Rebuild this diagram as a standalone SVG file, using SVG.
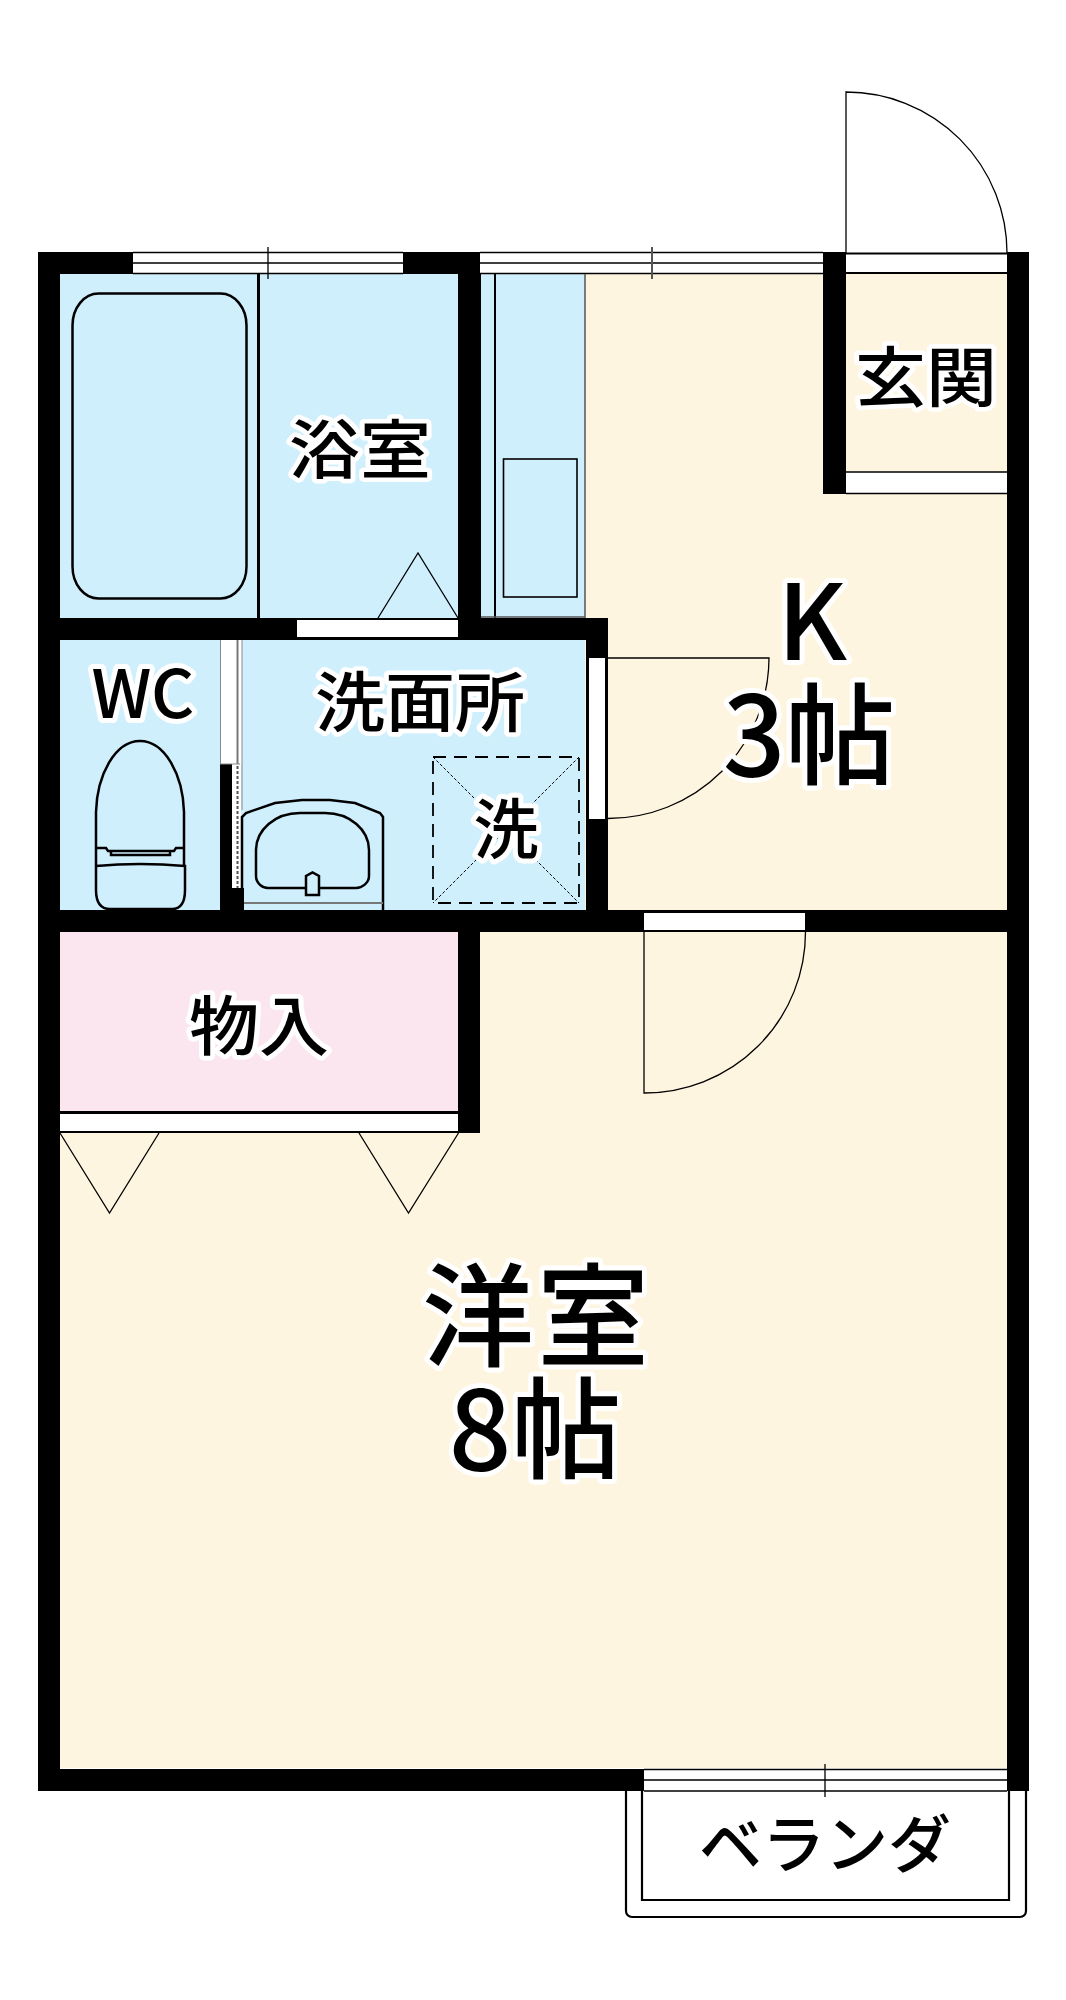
<svg xmlns="http://www.w3.org/2000/svg" width="1066" height="2000" viewBox="0 0 1066 2000">
<style>
.w{fill:#000}
.o{fill:#fff}
.l{fill:none;stroke:#000;stroke-width:1.3}
.m{fill:none;stroke:#000;stroke-width:2.2}
.t{font-family:"Noto Sans CJK JP","Noto Sans",sans-serif;font-weight:500;fill:#000;stroke:#fff;stroke-width:10;stroke-linejoin:round;paint-order:stroke;text-anchor:middle}
</style>
<rect width="1066" height="2000" fill="#fff"/>
<g id="floors">
<rect x="60" y="274" width="398" height="344" fill="#d0effd"/>
<rect x="481" y="274" width="104" height="344" fill="#d0effd"/>
<rect x="60" y="640" width="526" height="270" fill="#d0effd"/>
<rect x="585" y="274" width="422" height="636" fill="#fef5e0"/>
<rect x="60" y="932" width="947" height="836" fill="#fef5e0"/>
<rect x="60" y="932" width="398" height="179" fill="#fbe6f0"/>
</g>
<g id="balcony">
<path class="m" d="M626 1791V1911a6 6 0 0 0 6 6H1020a6 6 0 0 0 6-6V1791"/>
<path class="m" d="M642 1791V1900H1009V1791"/>
</g>
<g id="walls">
<rect class="w" x="38" y="252" width="22" height="1539"/>
<rect class="w" x="38" y="252" width="443" height="22"/>
<rect class="w" x="458" y="252" width="23" height="388"/>
<rect class="w" x="38" y="618" width="570" height="22"/>
<rect class="w" x="586" y="618" width="22" height="314"/>
<rect class="w" x="38" y="910" width="991" height="22"/>
<rect class="w" x="458" y="932" width="22" height="201"/>
<rect class="w" x="38" y="1111" width="420" height="22"/>
<rect class="w" x="38" y="1769" width="990" height="22"/>
<rect class="w" x="1007" y="252" width="22" height="1539"/>
<rect class="w" x="823" y="252" width="23" height="242"/>
<rect class="w" x="220" y="764" width="12" height="146"/>
<rect class="w" x="220" y="888" width="24" height="22"/>
</g>
<g id="openings">
<rect class="o" x="133" y="252" width="270" height="22"/>
<rect class="o" x="480" y="252" width="343" height="22"/>
<rect class="o" x="846" y="254" width="161" height="18"/>
<rect class="o" x="846" y="472" width="161" height="21"/>
<rect class="o" x="297" y="620" width="161" height="17"/>
<rect class="o" x="589" y="658" width="16" height="161"/>
<rect class="o" x="220" y="640" width="17" height="124"/>
<rect class="o" x="237" y="640" width="5" height="124"/>
<rect class="o" x="232" y="764" width="9" height="124"/>
<rect class="o" x="644" y="913" width="161" height="17"/>
<rect class="o" x="60" y="1114" width="398" height="17"/>
<rect class="o" x="644" y="1769" width="363" height="22"/>
<path fill="none" stroke="#000" stroke-width="1.3" d="M133 252.500H403M133 263H403M133 273.500H403M268 247V279"/>
<path fill="none" stroke="#000" stroke-width="1.3" d="M480 252.500H823M480 263H823M480 273.500H823"/>
<path fill="none" stroke="#555" stroke-width="2" d="M652 247V279"/>
<path fill="none" stroke="#000" stroke-width="1.3" d="M644 1769.500H1007M644 1780H1007M644 1791H1007M825 1764V1797"/>
<path fill="none" stroke="#000" stroke-width="2" d="M846 273H1007M846 253.500H1007"/>
<path class="l" d="M846 472H1007M846 493.500H1007"/>
<path fill="none" stroke="#777" stroke-width="2" d="M237.500 640V764"/>
<path fill="none" stroke="#888" stroke-width="1" d="M220.500 640V764M242 640V810M220 764H240"/>
<path fill="none" stroke="#555" stroke-width="2" stroke-dasharray="3 2" d="M237.500 766V888"/>
</g>
<g id="doors">
<path class="l" d="M846 253V92A161 161 0 0 1 1007 253"/>
<path class="l" d="M644 932V1093A161 161 0 0 0 805.500 932"/>
<path class="l" d="M608 658H769A161 161 0 0 1 608 818.500"/>
<path class="l" d="M378 618L418 553L458 618"/>
<path class="l" d="M60 1133L109.500 1213L159 1133"/>
<path class="l" d="M359 1133L408.500 1213L458.500 1133"/>
</g>
<g id="bath">
<path fill="none" stroke="#000" stroke-width="3" d="M258.500 274V618"/>
<rect class="m" x="72.500" y="293.500" width="174" height="305" rx="26" ry="32" style="stroke-width:2.500"/>
</g>
<g id="kitchen-unit">
<path fill="none" stroke="#000" stroke-width="2" d="M495 274V618"/>
<path fill="none" stroke="#555" stroke-width="1.500" d="M585 274V618M481 617H585"/>
<rect class="l" x="503.500" y="459" width="73.500" height="138" style="stroke-width:1.600"/>
</g>
<g id="toilet">
<path class="m" style="stroke-width:2.500" d="M96 848V812C97 775 115 741 140 741C165 741 183 775 184 812V848L176 848L174 851H108L106 848H96M111 851V855H170V851M96 848V865M184 848V865M96 866Q140 862 185 866V890Q185 909 172 909H110Q96 909 96 890Z"/>
</g>
<g id="sink">
<path class="m" style="stroke-width:2.500" d="M242 910V817L246 813L275 803L302 800H330L355 803L380 813L383 817V910"/>
<path fill="none" stroke="#000" stroke-width="2.500" d="M306 888H268C262 888 256 883 256 876V850C256 830 275 813 300 813H325C350 813 369 830 369 850V876C369 883 362 888 356 888H319"/>
<path class="m" style="stroke-width:2.500" d="M306 895V876L312.500 872.500L319 876V895Z"/>
<path fill="none" stroke="#777" stroke-width="2" d="M244 903H383"/>
</g>
<g id="washer">
<rect x="433" y="757" width="146" height="146" fill="none" stroke="#000" stroke-width="1.800" stroke-dasharray="13 8"/>
<path fill="none" stroke="#000" stroke-width="1" stroke-dasharray="3 2" d="M433 757L579 903M579 757L433 903"/>
</g>
<g id="labels">
<text class="t" transform="translate(360 473) scale(1 .9)" font-size="71">浴室</text>
<text class="t" transform="translate(926 401) scale(1 .92)" font-size="71">玄関</text>
<text class="t" x="143" y="718" font-size="67">WC</text>
<text class="t" transform="translate(420 726) scale(1 .92)" font-size="70">洗面所</text>
<text class="t" x="506" y="853" font-size="65">洗</text>
<text class="t" transform="translate(259 1050) scale(1 .93)" font-size="70">物入</text>
<text class="t" x="812" y="660" font-size="105">K</text>
<text class="t" x="809" y="776" font-size="110">3帖</text>
<text class="t" x="537" y="1358" font-size="112" letter-spacing="3">洋室</text>
<text class="t" x="535" y="1470" font-size="110">8帖</text>
<text class="t" x="825" y="1867" font-size="63" style="stroke:none">ベランダ</text>
</g>
</svg>
